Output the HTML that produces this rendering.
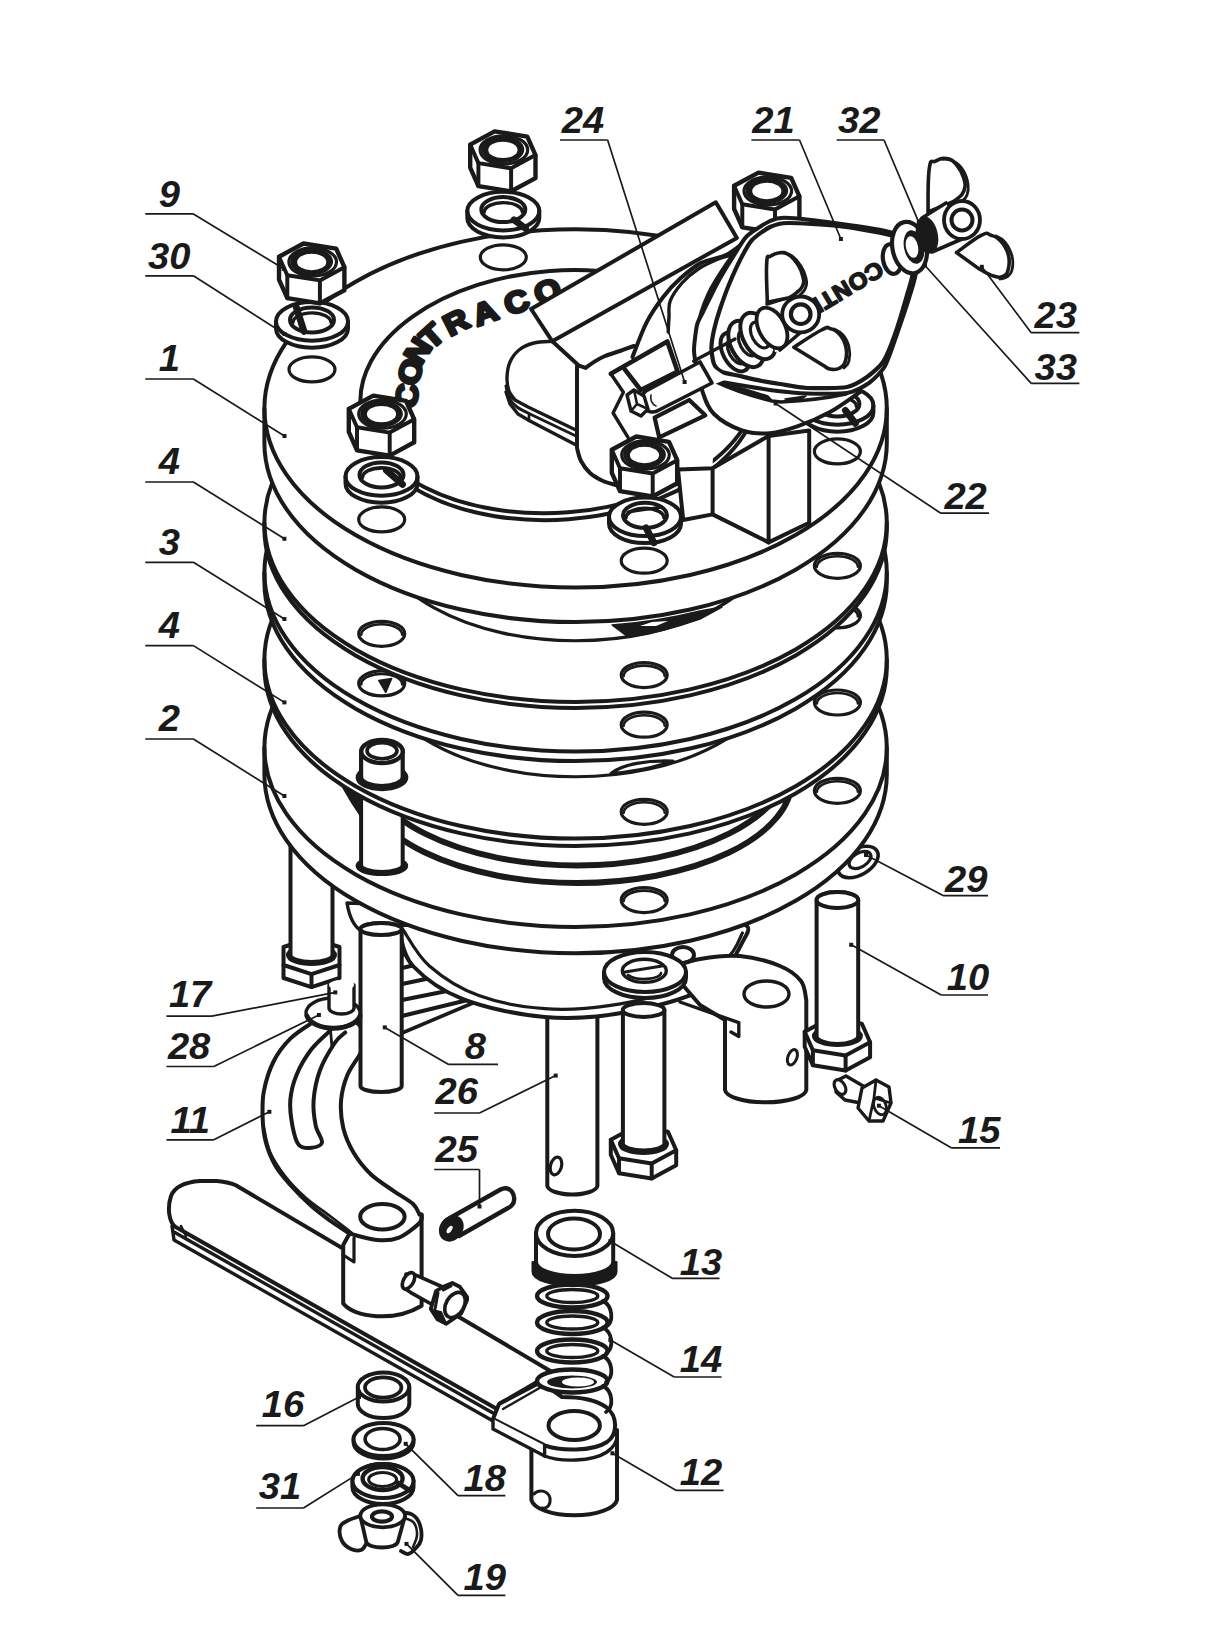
<!DOCTYPE html>
<html><head><meta charset="utf-8"><style>html,body{margin:0;padding:0;background:#fff;}svg{display:block}</style></head>
<body><svg width="1214" height="1652" viewBox="0 0 1214 1652">
<path d="M283.5,965.0 L283.5,947.0 L311.5,937.9 L339.5,947.0 L339.5,965.0 L339.5,978.0 L311.5,987.1 L283.5,978.0 Z" fill="#fff" stroke="#1a1a1a" stroke-width="4.0" stroke-linejoin="round" stroke-linecap="round" />
<path d="M339.5,965.0 L311.5,974.1 L283.5,965.0" fill="none" stroke="#1a1a1a" stroke-width="4.0" stroke-linejoin="round" stroke-linecap="round" />
<path d="M311.5,974.1 L311.5,987.1" fill="none" stroke="#1a1a1a" stroke-width="4.0" stroke-linejoin="round" stroke-linecap="round" />
<ellipse cx="311.5" cy="955.0" rx="23.0" ry="8.5" fill="none" stroke="#1a1a1a" stroke-width="5"/>
<path d="M290.5,840.0 L290.5,955.0 A21.0,7.0 0 0 0 332.5,955.0 L332.5,840.0" fill="#fff" stroke="#1a1a1a" stroke-width="4.0" stroke-linejoin="round" stroke-linecap="round" />
<path d="M402.0,935.0 L470.0,948.0 L478.0,1000.0 L402.0,1035.0 Z" fill="#fff" stroke="#1a1a1a" stroke-width="0.01" stroke-linejoin="round" stroke-linecap="round" />
<path d="M402.0,955.0 L412.0,952.0" fill="none" stroke="#1a1a1a" stroke-width="4" stroke-linejoin="round" stroke-linecap="round" />
<path d="M402.0,968.0 L428.0,962.0" fill="none" stroke="#1a1a1a" stroke-width="4" stroke-linejoin="round" stroke-linecap="round" />
<path d="M402.0,984.0 L445.0,975.0" fill="none" stroke="#1a1a1a" stroke-width="4" stroke-linejoin="round" stroke-linecap="round" />
<path d="M402.0,1000.0 L462.0,988.0" fill="none" stroke="#1a1a1a" stroke-width="4" stroke-linejoin="round" stroke-linecap="round" />
<path d="M402.0,1016.0 L476.0,998.0" fill="none" stroke="#1a1a1a" stroke-width="4" stroke-linejoin="round" stroke-linecap="round" />
<path d="M402.0,1033.0 L480.0,1000.0" fill="none" stroke="#1a1a1a" stroke-width="3.6" stroke-linejoin="round" stroke-linecap="round" />
<path d="M547.3,1000.0 L547.3,1186.0 A25.1,9.0 0 0 0 597.4,1186.0 L597.4,1000.0" fill="#fff" stroke="#1a1a1a" stroke-width="4.0" stroke-linejoin="round" stroke-linecap="round" />
<ellipse cx="556.0" cy="1166.0" rx="5.5" ry="9.0" fill="#fff" stroke="#1a1a1a" stroke-width="3.2" transform="rotate(15 556.0 1166.0)"/>
<path d="M399.8,925.0 C399.8,926.3 397.6,926.2 399.8,933.0 C402.0,939.8 402.6,955.0 413.0,966.0 C423.4,977.0 440.4,990.3 462.4,998.8 C484.3,1007.3 517.3,1014.8 544.7,1017.0 C572.1,1019.2 599.5,1017.2 627.0,1012.0 C654.5,1006.8 689.7,998.3 709.5,985.7 C729.3,973.1 739.6,946.3 745.7,936.2 C751.8,926.1 746.0,926.9 746.0,925.0 Z" fill="#fff" stroke="#1a1a1a" stroke-width="4.0" stroke-linejoin="round" stroke-linecap="round" />
<path d="M403.0,929.7 C407.4,935.8 416.8,955.0 429.4,966.0 C442.0,977.0 459.6,988.5 478.8,995.6 C498.0,1002.7 522.7,1007.1 544.7,1008.7 C566.7,1010.3 588.6,1008.7 610.6,1005.4 C632.6,1002.1 657.3,996.7 676.5,989.0 C695.7,981.3 715.0,968.6 726.0,959.3 C737.0,950.0 739.7,937.4 742.4,933.0" fill="none" stroke="#1a1a1a" stroke-width="3.2" stroke-linejoin="round" stroke-linecap="round" />
<path d="M668.0,968.0 C673.3,966.5 688.0,961.0 700.0,959.0 C712.0,957.0 726.7,954.8 740.0,956.0 C753.3,957.2 769.8,961.8 780.0,966.0 C790.2,970.2 796.6,975.3 801.0,981.0 C805.4,986.7 805.4,996.8 806.3,1000.0 L806.3,1090 A40.7,13 0 0 1 725,1090 L725,1020 L700,1005 Z" fill="#fff" stroke="#1a1a1a" stroke-width="4.0" stroke-linejoin="round" stroke-linecap="round" />
<path d="M680.0,1002.0 L738.8,1022.6 L738.8,1036.5 L731.0,1032.0" fill="none" stroke="#1a1a1a" stroke-width="3.4" stroke-linejoin="round" stroke-linecap="round" />
<ellipse cx="766.5" cy="994.0" rx="22.5" ry="13.0" fill="#fff" stroke="#1a1a1a" stroke-width="3.4"/>
<ellipse cx="792.4" cy="1057.3" rx="4.5" ry="8.0" fill="#fff" stroke="#1a1a1a" stroke-width="3" transform="rotate(20 792.4 1057.3)"/>
<ellipse cx="683.0" cy="955.0" rx="11.0" ry="8.0" fill="none" stroke="#1a1a1a" stroke-width="4"/>
<path d="M604,972 A41,20 0 0 1 686,972 L686,978 A41,20 0 0 1 604,978 Z" fill="#fff" stroke="#1a1a1a" stroke-width="4.0" stroke-linejoin="round" stroke-linecap="round" />
<path d="M604,972 A41,20 0 0 0 686,972" fill="none" stroke="#1a1a1a" stroke-width="4.0" stroke-linejoin="round" stroke-linecap="round" />
<ellipse cx="644.3" cy="970.8" rx="22.0" ry="11.5" fill="#fff" stroke="#1a1a1a" stroke-width="3.4"/>
<path d="M625.0,972.0 L662.0,966.0" fill="none" stroke="#1a1a1a" stroke-width="3" stroke-linejoin="round" stroke-linecap="round" />
<path d="M628,975 A17,6 0 0 0 661,973" fill="none" stroke="#1a1a1a" stroke-width="2.6" stroke-linejoin="round" stroke-linecap="round" />
<path d="M610.8,1139.8 L635.3,1126.5 L668.0,1131.8 L676.2,1150.2 L676.2,1165.2 L651.7,1178.5 L619.0,1173.2 L610.8,1154.8 Z" fill="#fff" stroke="#1a1a1a" stroke-width="4.0" stroke-linejoin="round" stroke-linecap="round" />
<path d="M676.2,1150.2 L651.7,1163.5 L619.0,1158.2 L610.8,1139.8" fill="none" stroke="#1a1a1a" stroke-width="4.0" stroke-linejoin="round" stroke-linecap="round" />
<path d="M651.7,1163.5 L651.7,1178.5" fill="none" stroke="#1a1a1a" stroke-width="4.0" stroke-linejoin="round" stroke-linecap="round" />
<path d="M619.0,1158.2 L619.0,1173.2" fill="none" stroke="#1a1a1a" stroke-width="4.0" stroke-linejoin="round" stroke-linecap="round" />
<ellipse cx="643.5" cy="1144.0" rx="23.0" ry="8.5" fill="none" stroke="#1a1a1a" stroke-width="5"/>
<path d="M622.9,1010.0 L622.9,1144.0 A20.8,7.0 0 0 0 664.4,1144.0 L664.4,1010.0 A20.8,7.0 0 0 0 622.9,1010.0 Z" fill="#fff" stroke="#1a1a1a" stroke-width="4.0" stroke-linejoin="round" stroke-linecap="round" />
<ellipse cx="643.6" cy="1010.0" rx="20.8" ry="7.0" fill="#fff" stroke="#1a1a1a" stroke-width="4.0"/>
<path d="M804.7,1031.8 L829.2,1018.5 L861.9,1023.8 L870.1,1042.2 L870.1,1057.2 L845.6,1070.5 L812.9,1065.2 L804.7,1046.8 Z" fill="#fff" stroke="#1a1a1a" stroke-width="4.0" stroke-linejoin="round" stroke-linecap="round" />
<path d="M870.1,1042.2 L845.6,1055.5 L812.9,1050.2 L804.7,1031.8" fill="none" stroke="#1a1a1a" stroke-width="4.0" stroke-linejoin="round" stroke-linecap="round" />
<path d="M845.6,1055.5 L845.6,1070.5" fill="none" stroke="#1a1a1a" stroke-width="4.0" stroke-linejoin="round" stroke-linecap="round" />
<path d="M812.9,1050.2 L812.9,1065.2" fill="none" stroke="#1a1a1a" stroke-width="4.0" stroke-linejoin="round" stroke-linecap="round" />
<ellipse cx="837.4" cy="1036.0" rx="23.0" ry="8.5" fill="none" stroke="#1a1a1a" stroke-width="5"/>
<path d="M816.6,900.0 L816.6,1036.0 A20.8,8.0 0 0 0 858.2,1036.0 L858.2,900.0 A20.8,8.0 0 0 0 816.6,900.0 Z" fill="#fff" stroke="#1a1a1a" stroke-width="4.0" stroke-linejoin="round" stroke-linecap="round" />
<ellipse cx="837.4" cy="900.0" rx="20.8" ry="8.0" fill="#fff" stroke="#1a1a1a" stroke-width="4.0"/>
<path d="M838.0,1080.0 L846.0,1076.0 L870.0,1090.0 L866.0,1104.0 L845.0,1100.0 L836.0,1092.0 Z" fill="#fff" stroke="#1a1a1a" stroke-width="3.4" stroke-linejoin="round" stroke-linecap="round" />
<ellipse cx="840.0" cy="1087.0" rx="5.0" ry="8.0" fill="#fff" stroke="#1a1a1a" stroke-width="3.2" transform="rotate(-30 840.0 1087.0)"/>
<path d="M862.0,1088.0 L876.0,1080.0 L889.0,1087.0 L891.0,1103.0 L883.0,1121.0 L869.0,1121.0 L858.0,1108.0 Z" fill="#fff" stroke="#1a1a1a" stroke-width="3.4" stroke-linejoin="round" stroke-linecap="round" />
<path d="M876.0,1080.0 L874.0,1098.0 L891.0,1103.0 M874.0,1098.0 L869.0,1121.0" fill="none" stroke="#1a1a1a" stroke-width="2.8" stroke-linejoin="round" stroke-linecap="round" />
<ellipse cx="880.0" cy="1106.0" rx="6.0" ry="9.0" fill="none" stroke="#1a1a1a" stroke-width="2.8" transform="rotate(-20 880.0 1106.0)"/>
<ellipse cx="858.0" cy="862.0" rx="22.0" ry="13.0" fill="#fff" stroke="#1a1a1a" stroke-width="3.6" transform="rotate(-30 858.0 862.0)"/>
<ellipse cx="860.0" cy="860.0" rx="12.0" ry="7.0" fill="#fff" stroke="#1a1a1a" stroke-width="3.2" transform="rotate(-30 860.0 860.0)"/>
<path d="M497,1409 L175.2,1226.8 C169,1222 167,1208 171,1196 C175,1186 185,1182 200,1181 L217,1181 C226,1182 231,1183 235.8,1185.2 L552,1372 Z" fill="#fff" stroke="#1a1a1a" stroke-width="4.0" stroke-linejoin="round" stroke-linecap="round" />
<path d="M174.0,1232.0 L493.0,1413.0" fill="none" stroke="#1a1a1a" stroke-width="3.4" stroke-linejoin="round" stroke-linecap="round" />
<path d="M172.0,1226.0 L174.0,1240.0 L493.0,1421.0" fill="none" stroke="#1a1a1a" stroke-width="3.4" stroke-linejoin="round" stroke-linecap="round" />
<path d="M181.0,1226.0 L186.0,1236.0" fill="none" stroke="#1a1a1a" stroke-width="2.6" stroke-linejoin="round" stroke-linecap="round" />
<path d="M531.4,1430 L531.4,1500 A43,17 0 0 0 617,1500 L617,1430 Z" fill="#fff" stroke="#1a1a1a" stroke-width="4.0" stroke-linejoin="round" stroke-linecap="round" />
<path d="M534,1494 C538,1489 548,1490 550,1498 C551,1505 547,1509 542,1508" fill="none" stroke="#1a1a1a" stroke-width="3" stroke-linejoin="round" stroke-linecap="round" />
<path d="M499,1404 L493,1419 L544.6,1445.4 C560,1451 592,1452 607,1442 C618,1434 618,1416 606,1407 C596,1400 580,1397 562,1397 L541,1382 Z" fill="#fff" stroke="#1a1a1a" stroke-width="4.0" stroke-linejoin="round" stroke-linecap="round" />
<path d="M493.0,1419.0 L493.0,1429.0 L544.6,1456.0 L544.6,1445.4" fill="#fff" stroke="#1a1a1a" stroke-width="3.4" stroke-linejoin="round" stroke-linecap="round" />
<path d="M544.6,1456 C560,1462 592,1462 607,1452 C614,1447 617,1442 617,1436" fill="none" stroke="#1a1a1a" stroke-width="3.4" stroke-linejoin="round" stroke-linecap="round" />
<path d="M500.0,1403.0 L540.0,1380.0" fill="none" stroke="#1a1a1a" stroke-width="3.2" stroke-linejoin="round" stroke-linecap="round" />
<path d="M503.0,1409.0 L543.0,1386.0" fill="none" stroke="#1a1a1a" stroke-width="2.4" stroke-linejoin="round" stroke-linecap="round" />
<ellipse cx="574.2" cy="1425.6" rx="25.7" ry="14.5" fill="#fff" stroke="#1a1a1a" stroke-width="4.0"/>
<path d="M313.6,1021.8 C309.7,1024.6 297.0,1032.0 290.3,1038.7 C283.6,1045.4 277.7,1053.2 273.3,1062.0 C268.9,1070.8 265.6,1082.2 263.8,1091.7 C262.0,1101.2 262.4,1110.7 262.7,1119.2 C263.0,1127.7 263.8,1134.7 265.9,1142.5 C268.0,1150.3 271.3,1158.7 275.4,1165.8 C279.5,1172.9 284.3,1178.2 290.3,1184.9 C296.3,1191.6 304.7,1200.1 311.4,1206.1 C318.1,1212.1 324.1,1216.3 330.5,1220.9 C336.9,1225.5 346.4,1231.5 349.6,1233.6 L343.2,1245 L343.2,1303.6 C355,1318 395,1322 421.6,1305.7 L421.6,1214.6 419.5,1214.6 C418.4,1212.8 417.3,1207.9 413.1,1204.0 C408.9,1200.1 401.2,1196.2 394.1,1191.3 C387.1,1186.3 377.5,1180.7 370.8,1174.3 C364.1,1167.9 358.4,1160.9 353.8,1153.1 C349.2,1145.3 345.3,1136.5 343.2,1127.7 C341.1,1118.9 340.4,1109.0 341.1,1100.2 C341.8,1091.4 344.3,1082.5 347.5,1074.7 C350.7,1066.9 356.8,1060.2 360.2,1053.6 C363.6,1047.0 366.7,1038.1 368.0,1035.0 L350,1015 Z" fill="#fff" stroke="#1a1a1a" stroke-width="4.0" stroke-linejoin="round" stroke-linecap="round" />
<path d="M263.5,1126.0 C264.6,1130.3 266.4,1143.7 270.0,1152.0 C273.6,1160.3 279.0,1168.3 285.0,1176.0 C291.0,1183.7 298.5,1191.3 306.0,1198.0 C313.5,1204.7 322.3,1210.2 330.0,1216.0 C337.7,1221.8 348.3,1230.2 352.0,1233.0" fill="none" stroke="#1a1a1a" stroke-width="2.8" stroke-linejoin="round" stroke-linecap="round" />
<path d="M349.6,1233.6 C354.2,1234.7 369.0,1239.3 377.1,1240.0 C385.2,1240.7 391.2,1240.7 398.3,1237.9 C405.4,1235.1 415.6,1226.9 419.5,1223.0 C423.4,1219.1 421.2,1216.0 421.6,1214.6" fill="none" stroke="#1a1a1a" stroke-width="4.0" stroke-linejoin="round" stroke-linecap="round" />
<ellipse cx="382.4" cy="1216.7" rx="22.2" ry="12.7" fill="#fff" stroke="#1a1a1a" stroke-width="4.0"/>
<path d="M354.0,1238.0 L354.0,1262.0 L343.2,1255.0" fill="none" stroke="#1a1a1a" stroke-width="3.2" stroke-linejoin="round" stroke-linecap="round" />
<path d="M330.5,1030.3 C327.3,1033.5 317.0,1041.9 311.4,1049.3 C305.8,1056.7 300.1,1066.2 296.6,1074.7 C293.1,1083.2 291.0,1091.7 290.3,1100.2 C289.6,1108.7 291.0,1118.2 292.4,1125.6 C293.8,1133.0 295.5,1141.0 298.7,1144.7 C301.9,1148.4 307.5,1148.2 311.4,1147.8 C315.3,1147.4 321.3,1146.2 322.0,1142.5 C322.7,1138.8 317.1,1132.6 315.7,1125.6 C314.3,1118.5 312.9,1109.4 313.6,1100.2 C314.3,1091.0 316.4,1080.0 319.9,1070.5 C323.4,1061.0 330.5,1049.3 334.7,1043.0 C338.9,1036.7 343.5,1034.2 345.3,1032.4" fill="#fff" stroke="#1a1a1a" stroke-width="4.0" stroke-linejoin="round" stroke-linecap="round" />
<path d="M330.5,1030.3 L332.0,1047.0" fill="none" stroke="#1a1a1a" stroke-width="2.8" stroke-linejoin="round" stroke-linecap="round" />
<path d="M347,903 C349,915 353,925 360,930 L400,930 L402,905 Z" fill="#fff" stroke="#1a1a1a" stroke-width="3.4" stroke-linejoin="round" stroke-linecap="round" />
<path d="M360.5,929.0 L360.5,1086.0 A20.6,6.0 0 0 0 401.7,1086.0 L401.7,929.0 A20.6,6.0 0 0 0 360.5,929.0 Z" fill="#fff" stroke="#1a1a1a" stroke-width="4.0" stroke-linejoin="round" stroke-linecap="round" />
<ellipse cx="381.1" cy="929.0" rx="20.6" ry="6.0" fill="#fff" stroke="#1a1a1a" stroke-width="4.0"/>
<ellipse cx="333.0" cy="1013.0" rx="27.0" ry="15.0" fill="#fff" stroke="#1a1a1a" stroke-width="3.4"/>
<path d="M307,1016 A27,15 0 0 0 360,1016" fill="none" stroke="#1a1a1a" stroke-width="5" stroke-linejoin="round" stroke-linecap="round" />
<path d="M329,985 L329,1008 A12.5,6 0 0 0 354,1008 L354,985" fill="#fff" stroke="#1a1a1a" stroke-width="3.4" stroke-linejoin="round" stroke-linecap="round" />
<ellipse cx="341.5" cy="985.0" rx="12.5" ry="5.0" fill="#fff" stroke="none"/>
<path d="M406.0,1274.0 L415.2,1274.8 L445.0,1288.0 L433.0,1305.0 L410.8,1292.6 L404.0,1288.0 Z" fill="#fff" stroke="#1a1a1a" stroke-width="3.6" stroke-linejoin="round" stroke-linecap="round" />
<ellipse cx="408.5" cy="1280.8" rx="5.0" ry="9.0" fill="#fff" stroke="#1a1a1a" stroke-width="3.6" transform="rotate(30 408.5 1280.8)"/>
<path d="M430.8,1308.9 L436.0,1291.1 L443.4,1286.7 L452.3,1283.0 L459.7,1286.7 L467.1,1297.1 L467.1,1300.0 L461.2,1313.4 L446.3,1323.8 L437.4,1319.3 Z" fill="#fff" stroke="#1a1a1a" stroke-width="3.8" stroke-linejoin="round" stroke-linecap="round" />
<path d="M443.4,1290.0 L451.0,1286.0 M438.0,1293.0 L435.0,1309.0" fill="none" stroke="#1a1a1a" stroke-width="3" stroke-linejoin="round" stroke-linecap="round" />
<path d="M432.0,1310.0 L437.4,1319.3 L446.3,1323.8 L441.0,1312.0 Z" fill="#1a1a1a" stroke="#1a1a1a" stroke-width="2" stroke-linejoin="round" stroke-linecap="round" />
<ellipse cx="455.0" cy="1305.0" rx="9.0" ry="13.5" fill="#fff" stroke="#1a1a1a" stroke-width="3.6" transform="rotate(30 455.0 1305.0)"/>
<path d="M450,1218 L500.5,1189.5 C507,1186 513,1190 514,1197 C515,1203 512,1206 508,1208 L459,1236 Z" fill="#fff" stroke="#1a1a1a" stroke-width="4.4" stroke-linejoin="round" stroke-linecap="round" />
<ellipse cx="451.3" cy="1228.4" rx="9.3" ry="11.8" fill="#1a1a1a" stroke="#1a1a1a" stroke-width="4.4" transform="rotate(35 451.3 1228.4)"/>
<ellipse cx="449.6" cy="1229.5" rx="2.2" ry="4.2" fill="#fff" stroke="none" transform="rotate(35 449.6 1229.5)"/>
<ellipse cx="572.3" cy="1381.0" rx="35.3" ry="11.5" fill="#fff" stroke="#1a1a1a" stroke-width="4.4"/>
<ellipse cx="572.0" cy="1382.0" rx="25.0" ry="6.5" fill="#1a1a1a" stroke="none"/>
<ellipse cx="578.0" cy="1382.0" rx="16.0" ry="4.5" fill="#fff" stroke="none"/>
<ellipse cx="572.3" cy="1351.0" rx="35.3" ry="11.5" fill="none" stroke="#1a1a1a" stroke-width="4.4"/>
<ellipse cx="572.3" cy="1351.0" rx="25.5" ry="6.5" fill="none" stroke="#1a1a1a" stroke-width="3.4"/>
<ellipse cx="572.3" cy="1322.5" rx="35.3" ry="11.5" fill="none" stroke="#1a1a1a" stroke-width="4.4"/>
<ellipse cx="572.3" cy="1322.5" rx="25.5" ry="6.5" fill="none" stroke="#1a1a1a" stroke-width="3.4"/>
<ellipse cx="572.3" cy="1296.0" rx="35.3" ry="11.5" fill="none" stroke="#1a1a1a" stroke-width="4.4"/>
<ellipse cx="572.3" cy="1296.0" rx="25.5" ry="6.5" fill="none" stroke="#1a1a1a" stroke-width="3.4"/>
<path d="M603,1301 C613,1306 614,1322 606,1327" fill="none" stroke="#1a1a1a" stroke-width="3.8" stroke-linejoin="round" stroke-linecap="round" />
<path d="M603,1327.5 C613,1332.5 614,1348.5 606,1353.5" fill="none" stroke="#1a1a1a" stroke-width="3.8" stroke-linejoin="round" stroke-linecap="round" />
<path d="M603,1356 C613,1361 614,1377 606,1382" fill="none" stroke="#1a1a1a" stroke-width="3.8" stroke-linejoin="round" stroke-linecap="round" />
<path d="M603,1386 C613,1391 614,1407 606,1412" fill="none" stroke="#1a1a1a" stroke-width="3.8" stroke-linejoin="round" stroke-linecap="round" />
<path d="M532.5,1262 L532.5,1272 A42,14 0 0 0 616.5,1272 L616.5,1262 Z" fill="#1a1a1a" stroke="#1a1a1a" stroke-width="2" stroke-linejoin="round" stroke-linecap="round" />
<path d="M536,1233 L536,1262 A38.6,14 0 0 0 613.2,1262 L613.2,1233 Z" fill="#fff" stroke="#1a1a1a" stroke-width="4.0" stroke-linejoin="round" stroke-linecap="round" />
<ellipse cx="574.6" cy="1233.3" rx="38.6" ry="22.6" fill="#fff" stroke="#1a1a1a" stroke-width="4.0"/>
<ellipse cx="574.0" cy="1234.0" rx="26.0" ry="15.4" fill="#fff" stroke="#1a1a1a" stroke-width="4.0"/>
<path d="M357.8,1387 L357.8,1404 A25.7,14 0 0 0 409.3,1404 L409.3,1387 Z" fill="#fff" stroke="#1a1a1a" stroke-width="4.0" stroke-linejoin="round" stroke-linecap="round" />
<ellipse cx="383.5" cy="1387.0" rx="25.7" ry="14.5" fill="#fff" stroke="#1a1a1a" stroke-width="4.0"/>
<ellipse cx="383.2" cy="1387.5" rx="18.2" ry="10.2" fill="#fff" stroke="#1a1a1a" stroke-width="3.8"/>
<path d="M353.6,1439.5 A30,16.5 0 0 1 413.5,1439.5 L413.5,1443 A30,16.5 0 0 1 353.6,1443 Z" fill="#fff" stroke="#1a1a1a" stroke-width="4.0" stroke-linejoin="round" stroke-linecap="round" />
<path d="M355,1443 A29,15 0 0 0 412,1443" fill="none" stroke="#1a1a1a" stroke-width="5.5" stroke-linejoin="round" stroke-linecap="round" />
<ellipse cx="383.5" cy="1439.5" rx="30.0" ry="16.5" fill="#fff" stroke="#1a1a1a" stroke-width="4.0"/>
<ellipse cx="382.6" cy="1439.0" rx="17.5" ry="10.5" fill="#fff" stroke="#1a1a1a" stroke-width="3.6"/>
<path d="M352.4,1481 A30.5,17 0 0 1 413.5,1481 L413.5,1487 A30.5,17 0 0 1 352.4,1487 Z" fill="#fff" stroke="#1a1a1a" stroke-width="4.0" stroke-linejoin="round" stroke-linecap="round" />
<ellipse cx="383.0" cy="1481.0" rx="30.5" ry="17.0" fill="#fff" stroke="#1a1a1a" stroke-width="4.0"/>
<ellipse cx="382.6" cy="1478.5" rx="20.0" ry="11.5" fill="#fff" stroke="#1a1a1a" stroke-width="4.4"/>
<ellipse cx="382.6" cy="1479.5" rx="14.0" ry="7.0" fill="#fff" stroke="#1a1a1a" stroke-width="3"/>
<path d="M398.0,1483.0 L409.0,1490.0" fill="none" stroke="#1a1a1a" stroke-width="5" stroke-linejoin="round" stroke-linecap="round" />
<path d="M366.0,1514.0 C362.2,1515.4 352.2,1518.2 347.0,1521.0 C341.8,1523.8 341.0,1524.0 340.0,1528.0 C339.0,1532.0 339.8,1536.8 342.0,1541.0 C344.2,1545.2 347.2,1547.2 351.0,1549.0 C354.8,1550.8 358.0,1551.0 361.0,1550.0 C364.0,1549.0 365.0,1545.2 366.0,1544.0" fill="#fff" stroke="#1a1a1a" stroke-width="3.8" stroke-linejoin="round" stroke-linecap="round" />
<path d="M400.0,1512.0 C402.6,1512.6 409.0,1512.4 413.0,1515.0 C417.0,1517.6 418.4,1520.0 420.0,1525.0 C421.6,1530.0 422.0,1535.2 421.0,1540.0 C420.0,1544.8 417.6,1546.2 415.0,1549.0 C412.4,1551.8 410.8,1553.6 408.0,1554.0 C405.2,1554.4 402.4,1551.6 401.0,1551.0" fill="#fff" stroke="#1a1a1a" stroke-width="3.8" stroke-linejoin="round" stroke-linecap="round" />
<path d="M404.0,1518.0 C406.0,1519.0 411.4,1519.6 414.0,1523.0 C416.6,1526.4 417.2,1530.2 417.0,1535.0 C416.8,1539.8 413.8,1544.6 413.0,1547.0" fill="none" stroke="#1a1a1a" stroke-width="2.6" stroke-linejoin="round" stroke-linecap="round" />
<path d="M360.3,1516 L366.3,1542 A15.8,6 0 0 0 397.8,1542 L405,1516 Z" fill="#fff" stroke="#1a1a1a" stroke-width="3.8" stroke-linejoin="round" stroke-linecap="round" />
<ellipse cx="382.7" cy="1515.8" rx="22.4" ry="11.5" fill="#fff" stroke="#1a1a1a" stroke-width="3.8"/>
<ellipse cx="382.0" cy="1516.5" rx="10.0" ry="5.2" fill="#fff" stroke="#1a1a1a" stroke-width="4.2"/>
<path d="M264.4,747.8 A311.2,179.2 0 0 1 886.8,747.8 L886.8,774.2 A311.2,179.2 0 0 1 264.4,774.2 Z" fill="#fff" stroke="#1a1a1a" stroke-width="4.0" stroke-linejoin="round" stroke-linecap="round" />
<path d="M264.4,747.8 A311.2,179.2 0 0 0 886.8,747.8" fill="none" stroke="#1a1a1a" stroke-width="4.0" stroke-linejoin="round" stroke-linecap="round" />
<ellipse cx="837.4" cy="790.8" rx="23.0" ry="12.5" fill="#fff" stroke="#1a1a1a" stroke-width="3.2"/>
<path d="M816.9,791.8 A20.5,10.5 0 0 1 857.9,791.8" fill="none" stroke="#1a1a1a" stroke-width="2.5600000000000005" stroke-linejoin="round" stroke-linecap="round" />
<ellipse cx="644.2" cy="900.1" rx="23.0" ry="12.5" fill="#fff" stroke="#1a1a1a" stroke-width="3.2"/>
<path d="M623.7,901.1 A20.5,10.5 0 0 1 664.7,901.1" fill="none" stroke="#1a1a1a" stroke-width="2.5600000000000005" stroke-linejoin="round" stroke-linecap="round" />
<path d="M362.0,756.9 A215,108.6 0 0 0 792.0,756.9" fill="none" stroke="#1a1a1a" stroke-width="6" stroke-linejoin="round" stroke-linecap="round" />
<path d="M362.0,779.2 A215,103.8 0 0 0 792.0,779.2" fill="none" stroke="#1a1a1a" stroke-width="6" stroke-linejoin="round" stroke-linecap="round" />
<path d="M357.7,866 A24.2,8 0 0 0 406.1,866 A24.2,8 0 0 0 357.7,866 Z" fill="#fff" stroke="#1a1a1a" stroke-width="4.2" stroke-linejoin="round" stroke-linecap="round" />
<path d="M361.1,795 L361.1,865 A20.8,7 0 0 0 402.7,865 L402.7,795 Z" fill="#fff" stroke="#1a1a1a" stroke-width="4" stroke-linejoin="round" stroke-linecap="round" />
<path d="M342.0,786.0 L362.0,797.0 L362.0,818.0 L352.0,803.0 Z" fill="#1a1a1a" stroke="#1a1a1a" stroke-width="1.5" stroke-linejoin="round" stroke-linecap="round" />
<path d="M264.4,659.5 A311.2,179.2 0 0 1 886.8,659.5 L886.8,666.8 A311.2,179.2 0 0 1 264.4,666.8 Z" fill="#fff" stroke="#1a1a1a" stroke-width="4.0" stroke-linejoin="round" stroke-linecap="round" />
<path d="M264.4,659.5 A311.2,179.2 0 0 0 886.8,659.5" fill="none" stroke="#1a1a1a" stroke-width="4.0" stroke-linejoin="round" stroke-linecap="round" />
<ellipse cx="837.4" cy="702.5" rx="23.0" ry="12.5" fill="#fff" stroke="#1a1a1a" stroke-width="3.2"/>
<path d="M816.9,703.5 A20.5,10.5 0 0 1 857.9,703.5" fill="none" stroke="#1a1a1a" stroke-width="2.5600000000000005" stroke-linejoin="round" stroke-linecap="round" />
<ellipse cx="644.2" cy="811.8" rx="23.0" ry="12.5" fill="#fff" stroke="#1a1a1a" stroke-width="3.2"/>
<path d="M623.7,812.8 A20.5,10.5 0 0 1 664.7,812.8" fill="none" stroke="#1a1a1a" stroke-width="2.5600000000000005" stroke-linejoin="round" stroke-linecap="round" />
<path d="M375.6,666.8 A200,110 0 0 0 775.6,666.8" fill="none" stroke="#1a1a1a" stroke-width="3.2" stroke-linejoin="round" stroke-linecap="round" />
<ellipse cx="382.0" cy="777.5" rx="24.2" ry="11.5" fill="#fff" stroke="#1a1a1a" stroke-width="4.4"/>
<path d="M361.1,751.5 L361.1,777 A20.8,9 0 0 0 402.7,777 L402.7,751.5 Z" fill="#fff" stroke="#1a1a1a" stroke-width="4.2" stroke-linejoin="round" stroke-linecap="round" />
<ellipse cx="382.0" cy="751.5" rx="20.8" ry="11.5" fill="#fff" stroke="#1a1a1a" stroke-width="4.4"/>
<ellipse cx="382.0" cy="750.7" rx="15.0" ry="8.0" fill="#fff" stroke="#1a1a1a" stroke-width="3.6"/>
<path d="M611,773.5 C622,764 648,760 673,761 C656,767 632,772 611,773.5 Z" fill="#fff" stroke="#1a1a1a" stroke-width="3.2" stroke-linejoin="round" stroke-linecap="round" />
<path d="M264.4,572.4 A311.2,179.2 0 0 1 886.8,572.4 L886.8,582.0 A311.2,179.2 0 0 1 264.4,582.0 Z" fill="#fff" stroke="#1a1a1a" stroke-width="4.0" stroke-linejoin="round" stroke-linecap="round" />
<path d="M264.4,572.4 A311.2,179.2 0 0 0 886.8,572.4" fill="none" stroke="#1a1a1a" stroke-width="4.0" stroke-linejoin="round" stroke-linecap="round" />
<ellipse cx="837.4" cy="615.4" rx="23.0" ry="12.5" fill="#fff" stroke="#1a1a1a" stroke-width="3.2"/>
<path d="M816.9,616.4 A20.5,10.5 0 0 1 857.9,616.4" fill="none" stroke="#1a1a1a" stroke-width="2.5600000000000005" stroke-linejoin="round" stroke-linecap="round" />
<ellipse cx="644.2" cy="724.7" rx="23.0" ry="12.5" fill="#fff" stroke="#1a1a1a" stroke-width="3.2"/>
<path d="M623.7,725.7 A20.5,10.5 0 0 1 664.7,725.7" fill="none" stroke="#1a1a1a" stroke-width="2.5600000000000005" stroke-linejoin="round" stroke-linecap="round" />
<ellipse cx="381.7" cy="683.4" rx="23.0" ry="12.5" fill="#fff" stroke="#1a1a1a" stroke-width="3.2"/>
<path d="M361.2,684.4 A20.5,10.5 0 0 1 402.2,684.4" fill="none" stroke="#1a1a1a" stroke-width="2.5600000000000005" stroke-linejoin="round" stroke-linecap="round" />
<path d="M378.7,680.4 L391.7,678.4 L385.7,692.4 Z" fill="#1a1a1a" stroke="#1a1a1a" stroke-width="1.5" stroke-linejoin="round" stroke-linecap="round" />
<path d="M264.4,522.8 A311.2,179.2 0 0 1 886.8,522.8 L886.8,528.8 A311.2,179.2 0 0 1 264.4,528.8 Z" fill="#fff" stroke="#1a1a1a" stroke-width="4.0" stroke-linejoin="round" stroke-linecap="round" />
<path d="M264.4,522.8 A311.2,179.2 0 0 0 886.8,522.8" fill="none" stroke="#1a1a1a" stroke-width="4.0" stroke-linejoin="round" stroke-linecap="round" />
<ellipse cx="837.4" cy="565.8" rx="23.0" ry="12.5" fill="#fff" stroke="#1a1a1a" stroke-width="3.2"/>
<path d="M816.9,566.8 A20.5,10.5 0 0 1 857.9,566.8" fill="none" stroke="#1a1a1a" stroke-width="2.5600000000000005" stroke-linejoin="round" stroke-linecap="round" />
<ellipse cx="644.2" cy="675.1" rx="23.0" ry="12.5" fill="#fff" stroke="#1a1a1a" stroke-width="3.2"/>
<path d="M623.7,676.1 A20.5,10.5 0 0 1 664.7,676.1" fill="none" stroke="#1a1a1a" stroke-width="2.5600000000000005" stroke-linejoin="round" stroke-linecap="round" />
<ellipse cx="381.7" cy="633.8" rx="23.0" ry="12.5" fill="#fff" stroke="#1a1a1a" stroke-width="3.2"/>
<path d="M361.2,634.8 A20.5,10.5 0 0 1 402.2,634.8" fill="none" stroke="#1a1a1a" stroke-width="2.5600000000000005" stroke-linejoin="round" stroke-linecap="round" />
<path d="M375.6,528.8 A200,112 0 0 0 775.6,528.8" fill="none" stroke="#1a1a1a" stroke-width="3.2" stroke-linejoin="round" stroke-linecap="round" />
<path d="M612,625 L628,637 C652,634 680,626 700,619 L722,607 L700,611 C668,619 640,623 612,625 Z" fill="#1a1a1a" stroke="#1a1a1a" stroke-width="1.5" stroke-linejoin="round" stroke-linecap="round" />
<path d="M640,626 L652,622 L668,621 L656,626 Z" fill="#fff" stroke="#1a1a1a" stroke-width="0.01" stroke-linejoin="round" stroke-linecap="round" />
<path d="M264.4,408.4 A311.2,179.2 0 0 1 886.8,408.4 L886.8,443.0 A311.2,179.2 0 0 1 264.4,443.0 Z" fill="#fff" stroke="#1a1a1a" stroke-width="4.0" stroke-linejoin="round" stroke-linecap="round" />
<path d="M264.4,408.4 A311.2,179.2 0 0 0 886.8,408.4" fill="none" stroke="#1a1a1a" stroke-width="4.0" stroke-linejoin="round" stroke-linecap="round" />
<ellipse cx="837.4" cy="451.4" rx="23.0" ry="12.5" fill="#fff" stroke="#1a1a1a" stroke-width="3.2"/>
<ellipse cx="644.2" cy="560.7" rx="23.0" ry="12.5" fill="#fff" stroke="#1a1a1a" stroke-width="3.2"/>
<ellipse cx="381.7" cy="519.4" rx="23.0" ry="12.5" fill="#fff" stroke="#1a1a1a" stroke-width="3.2"/>
<ellipse cx="312.0" cy="369.4" rx="23.0" ry="12.5" fill="#fff" stroke="#1a1a1a" stroke-width="3.2"/>
<ellipse cx="503.3" cy="257.3" rx="23.0" ry="12.5" fill="#fff" stroke="#1a1a1a" stroke-width="3.2"/>
<ellipse cx="768.8" cy="296.0" rx="23.0" ry="12.5" fill="#fff" stroke="#1a1a1a" stroke-width="3.2"/>
<ellipse cx="559.0" cy="391.6" rx="199.0" ry="121.0" fill="none" stroke="#1a1a1a" stroke-width="4.0" transform="rotate(-4.3 559.0 391.6)"/>
<path d="M360.0,398.6 A199,121 0 0 0 758.0,398.6" fill="none" stroke="#1a1a1a" stroke-width="4.0" transform="rotate(-4.3 559 391.6)"/>
<text transform="translate(407 396) rotate(-86) scale(1.12 1)" text-anchor="middle" dominant-baseline="central" font-family="Liberation Sans" font-weight="bold" font-size="30" fill="#1a1a1a" stroke="#1a1a1a" stroke-width="3.0" stroke-linejoin="round">C</text>
<text transform="translate(410.5 371.5) rotate(-74) scale(1.12 1)" text-anchor="middle" dominant-baseline="central" font-family="Liberation Sans" font-weight="bold" font-size="30" fill="#1a1a1a" stroke="#1a1a1a" stroke-width="3.0" stroke-linejoin="round">O</text>
<text transform="translate(418 351) rotate(-58) scale(1.12 1)" text-anchor="middle" dominant-baseline="central" font-family="Liberation Sans" font-weight="bold" font-size="30" fill="#1a1a1a" stroke="#1a1a1a" stroke-width="3.0" stroke-linejoin="round">N</text>
<text transform="translate(432 336) rotate(-42) scale(1.12 1)" text-anchor="middle" dominant-baseline="central" font-family="Liberation Sans" font-weight="bold" font-size="30" fill="#1a1a1a" stroke="#1a1a1a" stroke-width="3.0" stroke-linejoin="round">T</text>
<text transform="translate(456 322) rotate(-27) scale(1.12 1)" text-anchor="middle" dominant-baseline="central" font-family="Liberation Sans" font-weight="bold" font-size="30" fill="#1a1a1a" stroke="#1a1a1a" stroke-width="3.0" stroke-linejoin="round">R</text>
<text transform="translate(485 312.5) rotate(-20) scale(1.12 1)" text-anchor="middle" dominant-baseline="central" font-family="Liberation Sans" font-weight="bold" font-size="30" fill="#1a1a1a" stroke="#1a1a1a" stroke-width="3.0" stroke-linejoin="round">A</text>
<text transform="translate(516.5 302) rotate(-19) scale(1.12 1)" text-anchor="middle" dominant-baseline="central" font-family="Liberation Sans" font-weight="bold" font-size="30" fill="#1a1a1a" stroke="#1a1a1a" stroke-width="3.0" stroke-linejoin="round">C</text>
<text transform="translate(547.6 291.2) rotate(-19) scale(1.12 1)" text-anchor="middle" dominant-baseline="central" font-family="Liberation Sans" font-weight="bold" font-size="30" fill="#1a1a1a" stroke="#1a1a1a" stroke-width="3.0" stroke-linejoin="round">O</text>
<path d="M467.3,211.1 A36,19.3 0 0 1 539.3,211.1 L539.3,218.1 A36,19.3 0 0 1 467.3,218.1 Z" fill="#fff" stroke="#1a1a1a" stroke-width="4.0" stroke-linejoin="round" stroke-linecap="round" />
<path d="M467.3,211.1 A36,19.3 0 0 0 539.3,211.1" fill="none" stroke="#1a1a1a" stroke-width="4.0" stroke-linejoin="round" stroke-linecap="round" />
<ellipse cx="503.3" cy="209.6" rx="22.0" ry="12.5" fill="#fff" stroke="#1a1a1a" stroke-width="4.0"/>
<path d="M484.3,212.1 A19,9.5 0 0 1 522.3,212.1" fill="none" stroke="#1a1a1a" stroke-width="3.4" stroke-linejoin="round" stroke-linecap="round" />
<path d="M513.9,219.8 L525.6,228.5" fill="none" stroke="#1a1a1a" stroke-width="6.8" stroke-linejoin="round" stroke-linecap="round" />
<path d="M470.2,144.6 L494.6,131.4 L527.3,136.6 L535.5,155.1 L535.5,178.1 L511.1,191.3 L478.4,186.1 L470.2,167.6 Z" fill="#fff" stroke="#1a1a1a" stroke-width="4.4" stroke-linejoin="round" stroke-linecap="round" />
<path d="M470.2,144.6 L478.4,163.1 L511.1,168.3 L535.5,155.1" fill="none" stroke="#1a1a1a" stroke-width="3.9600000000000004" stroke-linejoin="round" stroke-linecap="round" />
<path d="M511.1,168.3 L511.1,191.3" fill="none" stroke="#1a1a1a" stroke-width="3.9600000000000004" stroke-linejoin="round" stroke-linecap="round" />
<path d="M478.4,163.1 L478.4,186.1" fill="none" stroke="#1a1a1a" stroke-width="3.9600000000000004" stroke-linejoin="round" stroke-linecap="round" />
<ellipse cx="503.9" cy="149.9" rx="23.8" ry="14.1" fill="#fff" stroke="#1a1a1a" stroke-width="3.2"/>
<ellipse cx="502.9" cy="149.6" rx="21.4" ry="13.5" fill="#1a1a1a" stroke="none"/>
<ellipse cx="502.9" cy="149.9" rx="14.6" ry="8.2" fill="#fff" stroke="none"/>
<path d="M734.1,185.8 L758.5,172.6 L791.2,177.8 L799.4,196.3 L799.4,219.3 L775.0,232.5 L742.3,227.3 L734.1,208.8 Z" fill="#fff" stroke="#1a1a1a" stroke-width="4.4" stroke-linejoin="round" stroke-linecap="round" />
<path d="M734.1,185.8 L742.3,204.3 L775.0,209.5 L799.4,196.3" fill="none" stroke="#1a1a1a" stroke-width="3.9600000000000004" stroke-linejoin="round" stroke-linecap="round" />
<path d="M775.0,209.5 L775.0,232.5" fill="none" stroke="#1a1a1a" stroke-width="3.9600000000000004" stroke-linejoin="round" stroke-linecap="round" />
<path d="M742.3,204.3 L742.3,227.3" fill="none" stroke="#1a1a1a" stroke-width="3.9600000000000004" stroke-linejoin="round" stroke-linecap="round" />
<ellipse cx="767.8" cy="191.0" rx="23.8" ry="14.1" fill="#fff" stroke="#1a1a1a" stroke-width="3.2"/>
<ellipse cx="766.8" cy="190.7" rx="21.4" ry="13.5" fill="#1a1a1a" stroke="none"/>
<ellipse cx="766.8" cy="191.0" rx="14.6" ry="8.2" fill="#fff" stroke="none"/>
<path d="M276.0,321.4 A36,19.3 0 0 1 348.0,321.4 L348.0,328.4 A36,19.3 0 0 1 276.0,328.4 Z" fill="#fff" stroke="#1a1a1a" stroke-width="4.0" stroke-linejoin="round" stroke-linecap="round" />
<path d="M276.0,321.4 A36,19.3 0 0 0 348.0,321.4" fill="none" stroke="#1a1a1a" stroke-width="4.0" stroke-linejoin="round" stroke-linecap="round" />
<ellipse cx="312.0" cy="319.9" rx="22.0" ry="12.5" fill="#fff" stroke="#1a1a1a" stroke-width="4.0"/>
<path d="M293.0,322.4 A19,9.5 0 0 1 331.0,322.4" fill="none" stroke="#1a1a1a" stroke-width="3.4" stroke-linejoin="round" stroke-linecap="round" />
<path d="M296.0,306.4 L304.0,331.4" fill="none" stroke="#1a1a1a" stroke-width="6.8" stroke-linejoin="round" stroke-linecap="round" />
<path d="M279.0,256.7 L303.5,243.5 L336.2,248.7 L344.4,267.2 L344.4,290.2 L319.9,303.4 L287.3,298.2 L279.0,279.7 Z" fill="#fff" stroke="#1a1a1a" stroke-width="4.4" stroke-linejoin="round" stroke-linecap="round" />
<path d="M279.0,256.7 L287.3,275.2 L319.9,280.4 L344.4,267.2" fill="none" stroke="#1a1a1a" stroke-width="3.9600000000000004" stroke-linejoin="round" stroke-linecap="round" />
<path d="M319.9,280.4 L319.9,303.4" fill="none" stroke="#1a1a1a" stroke-width="3.9600000000000004" stroke-linejoin="round" stroke-linecap="round" />
<path d="M287.3,275.2 L287.3,298.2" fill="none" stroke="#1a1a1a" stroke-width="3.9600000000000004" stroke-linejoin="round" stroke-linecap="round" />
<ellipse cx="312.7" cy="262.0" rx="23.8" ry="14.1" fill="#fff" stroke="#1a1a1a" stroke-width="3.2"/>
<ellipse cx="311.7" cy="261.7" rx="21.4" ry="13.5" fill="#1a1a1a" stroke="none"/>
<ellipse cx="311.7" cy="262.0" rx="14.6" ry="8.2" fill="#fff" stroke="none"/>
<path d="M801.4,405.4 A36,19.3 0 0 1 873.4,405.4 L873.4,412.4 A36,19.3 0 0 1 801.4,412.4 Z" fill="#fff" stroke="#1a1a1a" stroke-width="4.0" stroke-linejoin="round" stroke-linecap="round" />
<path d="M801.4,405.4 A36,19.3 0 0 0 873.4,405.4" fill="none" stroke="#1a1a1a" stroke-width="4.0" stroke-linejoin="round" stroke-linecap="round" />
<ellipse cx="837.4" cy="403.9" rx="22.0" ry="12.5" fill="#fff" stroke="#1a1a1a" stroke-width="4.0"/>
<path d="M818.4,406.4 A19,9.5 0 0 1 856.4,406.4" fill="none" stroke="#1a1a1a" stroke-width="3.4" stroke-linejoin="round" stroke-linecap="round" />
<path d="M845.4,410.4 L855.4,423.4" fill="none" stroke="#1a1a1a" stroke-width="6.8" stroke-linejoin="round" stroke-linecap="round" />
<path d="M552.3,341.3 C549.2,341.6 539.5,341.6 534.0,343.0 C528.5,344.4 523.0,346.8 519.0,350.0 C515.0,353.2 512.0,357.5 510.0,362.0 C508.0,366.5 507.2,372.2 507.0,377.0 C506.8,381.8 507.7,387.2 509.0,391.0 C510.3,394.8 514.0,398.5 515.0,400.0 M515.0,400.0 L528.0,407.0 L578.0,431.0 L578,446 L530,421 L518,414 L510,404 L506,392 Z" fill="#fff" stroke="#1a1a1a" stroke-width="3.4" stroke-linejoin="round" stroke-linecap="round" />
<path d="M506.0,386.0 C506.5,388.0 507.2,394.5 509.0,398.0 C510.8,401.5 513.5,404.3 517.0,407.0 C520.5,409.7 527.8,412.8 530.0,414.0 L578,437" fill="none" stroke="#1a1a1a" stroke-width="3.0" stroke-linejoin="round" stroke-linecap="round" />
<path d="M529.0,414.0 L529.0,421.0" fill="none" stroke="#1a1a1a" stroke-width="2.6" stroke-linejoin="round" stroke-linecap="round" />
<path d="M552.3,341.3 L736.9,237.9 L748.0,236.0 L728.0,262.0 L708.0,295.0 L697.0,330.0 L696.0,360.0 L702.0,390.0 L714.0,414.0 L712.6,468.2 L680.0,470.0 L615.0,484.0 L597.0,477.0 L583.0,463.0 L577.0,448.0 L577.0,368.0 L579.0,365.7 Z" fill="#fff" stroke="#1a1a1a" stroke-width="0.01" stroke-linejoin="round" stroke-linecap="round" />
<path d="M552.3,341.3 L579.0,365.7 L585.6,367.9 M585.6,367.9 C587.1,366.8 591.3,363.6 594.5,361.6 C597.7,359.6 600.8,357.8 605.0,356.0 C609.2,354.2 615.2,352.7 620.0,351.0 C624.8,349.3 631.7,346.8 634.0,346.0" fill="none" stroke="#1a1a1a" stroke-width="4.0" stroke-linejoin="round" stroke-linecap="round" />
<path d="M577.0,366.0 L577.0,448.0 M577.0,448.0 C577.7,450.2 578.8,456.8 581.0,461.0 C583.2,465.2 586.3,469.7 590.0,473.0 C593.7,476.3 598.7,479.0 603.0,481.0 C607.3,483.0 613.8,484.3 616.0,485.0" fill="none" stroke="#1a1a1a" stroke-width="4.0" stroke-linejoin="round" stroke-linecap="round" />
<path d="M616.0,485.0 L640.0,480.0" fill="none" stroke="#1a1a1a" stroke-width="4.0" stroke-linejoin="round" stroke-linecap="round" />
<path d="M632.5,357.0 C634.8,351.3 641.4,332.6 646.5,322.6 C651.6,312.6 657.3,304.6 663.0,297.2 C668.7,289.8 674.4,283.8 680.8,278.1 C687.2,272.4 693.8,266.7 701.2,262.9 C708.6,259.1 718.5,258.4 725.3,255.3 C732.1,252.2 739.2,245.9 742.0,244.0" fill="none" stroke="#1a1a1a" stroke-width="4.0" stroke-linejoin="round" stroke-linecap="round" />
<path d="M668.2,332.0 C668.3,329.4 668.7,321.8 669.0,316.6 C669.3,311.4 668.0,306.4 670.2,300.8 C672.4,295.2 677.4,288.3 682.0,283.0 C686.6,277.7 691.9,273.1 697.9,269.2 C703.9,265.2 712.0,261.7 717.7,259.3 C723.4,256.9 729.6,255.7 732.0,255.0" fill="none" stroke="#1a1a1a" stroke-width="3.4" stroke-linejoin="round" stroke-linecap="round" />
<path d="M678.0,469.6 L712.6,468.2 L768.6,436.0 L809.2,430.4 L809.2,522.8 L768.6,542.4 L712.6,514.4 L683.2,520.0 Z" fill="#fff" stroke="#1a1a1a" stroke-width="4.0" stroke-linejoin="round" stroke-linecap="round" />
<path d="M712.6,468.2 L712.6,514.4 M768.6,436.0 L768.6,542.4" fill="none" stroke="#1a1a1a" stroke-width="4.0" stroke-linejoin="round" stroke-linecap="round" />
<path d="M748.0,236.0 C744.7,240.3 734.7,252.2 728.0,262.0 C721.3,271.8 713.2,283.7 708.0,295.0 C702.8,306.3 699.0,319.2 697.0,330.0 C695.0,340.8 695.2,350.0 696.0,360.0 C696.8,370.0 699.0,381.0 702.0,390.0 C705.0,399.0 707.3,407.3 714.0,414.0 C720.7,420.7 732.7,427.2 742.0,430.4 C751.3,433.6 760.7,433.9 770.0,433.2 C779.3,432.5 788.0,429.7 798.0,426.2 C808.0,422.7 819.7,417.7 830.0,412.0 C840.3,406.3 855.0,395.3 860.0,392.0" fill="#fff" stroke="#1a1a1a" stroke-width="4.0" stroke-linejoin="round" stroke-linecap="round" />
<path d="M738.0,250.0 C734.3,255.3 721.8,271.2 716.0,282.0 C710.2,292.8 705.8,304.5 703.0,315.0 C700.2,325.5 699.7,340.0 699.0,345.0" fill="none" stroke="#1a1a1a" stroke-width="2.6" stroke-linejoin="round" stroke-linecap="round" />
<path d="M531.1,309.0 L715.8,202.3 L736.9,237.9 L552.3,341.3 Z" fill="#fff" stroke="#1a1a1a" stroke-width="4.0" stroke-linejoin="round" stroke-linecap="round" />
<path d="M694.0,350.0 C694.0,345.1 696.0,329.4 697.0,325.0 C698.0,320.6 700.5,317.0 703.0,312.0 C705.5,307.0 714.5,288.4 718.0,282.0 C721.5,275.6 729.6,262.4 733.0,257.0 C736.4,251.6 742.7,240.2 747.0,236.0 C751.3,231.8 765.6,223.1 770.0,221.0 C774.4,218.9 777.1,217.5 785.0,217.8 C792.9,218.1 825.6,221.7 838.0,223.4 C850.4,225.1 883.2,229.8 891.0,232.3 C898.8,234.8 902.1,240.6 905.0,245.0 C907.9,249.4 915.4,264.2 916.0,270.0 C916.6,275.8 912.3,287.2 910.0,295.0 C907.7,302.8 898.9,328.7 896.0,337.0 C893.1,345.3 888.1,360.6 885.0,366.0 C881.9,371.4 873.4,379.9 869.0,383.0 C864.6,386.1 854.2,391.8 847.0,393.0 C839.8,394.2 814.8,393.7 807.0,393.5 C799.2,393.3 787.2,392.2 780.0,391.3 C772.8,390.4 752.1,387.2 745.0,386.0 C737.9,384.8 723.5,382.2 719.0,381.1 C714.5,380.1 708.6,378.6 706.0,377.0 C703.4,375.4 698.4,370.1 697.0,367.0 C695.6,363.9 694.0,354.9 694.0,350.0 Z" fill="#fff" stroke="#1a1a1a" stroke-width="4.0" stroke-linejoin="round" stroke-linecap="round" />
<path d="M711.4,348.0 C711.4,344.0 713.0,334.6 714.0,330.0 C715.0,325.4 718.2,314.3 720.0,309.0 C721.8,303.7 726.6,290.3 729.0,284.5 C731.4,278.7 737.9,264.2 740.6,259.0 C743.3,253.8 748.6,243.7 752.0,240.0 C755.4,236.3 765.8,229.0 770.0,227.0 C774.2,225.0 780.1,223.1 788.0,223.0 C795.9,222.9 826.1,224.6 838.0,226.0 C849.9,227.4 882.3,232.6 890.0,235.0 C897.7,237.4 901.3,242.9 904.0,247.0 C906.7,251.1 912.6,264.4 913.0,270.0 C913.4,275.6 909.2,287.2 907.0,295.0 C904.8,302.8 896.8,329.2 894.0,337.0 C891.2,344.8 886.1,357.3 883.0,362.0 C879.9,366.7 871.2,374.1 867.0,377.0 C862.8,379.9 854.0,385.7 847.0,387.0 C840.0,388.3 814.8,388.4 807.0,388.0 C799.2,387.6 785.2,384.8 780.0,384.0 C774.8,383.2 766.7,381.9 762.0,381.0 C757.3,380.1 744.7,377.1 740.0,376.0 C735.3,374.9 725.0,373.4 722.0,372.0 C719.0,370.6 715.2,366.8 714.0,364.0 C712.8,361.2 711.4,352.0 711.4,348.0 Z" fill="none" stroke="#1a1a1a" stroke-width="4.2" stroke-linejoin="round" stroke-linecap="round" />
<path d="M716,382 C735,391 755,397 772,401 L781,402 C800,401 828,398 846,394" fill="none" stroke="#1a1a1a" stroke-width="3.4" stroke-linejoin="round" stroke-linecap="round" />
<path d="M718.0,382.0 L738.0,391.0 L772.0,400.5 L768.0,396.0 L742.0,388.0 Z" fill="#1a1a1a" stroke="#1a1a1a" stroke-width="1.5" stroke-linejoin="round" stroke-linecap="round" />
<path d="M785.0,399.0 L806.0,396.0 L800.0,400.5 Z" fill="#1a1a1a" stroke="#1a1a1a" stroke-width="1.5" stroke-linejoin="round" stroke-linecap="round" />
<text transform="translate(848 287) rotate(149) scale(1.05 1)" text-anchor="middle" dominant-baseline="central" font-family="Liberation Sans" font-weight="bold" font-size="23" fill="#1a1a1a" stroke="#1a1a1a" stroke-width="1.6" stroke-linejoin="round" letter-spacing="0.5">CONTI</text>
<ellipse cx="735.0" cy="352.0" rx="12.0" ry="21.0" fill="#fff" stroke="#1a1a1a" stroke-width="4" transform="rotate(-28 735.0 352.0)"/>
<ellipse cx="737.0" cy="351.0" rx="8.0" ry="14.0" fill="none" stroke="#1a1a1a" stroke-width="3.2" transform="rotate(-28 737.0 351.0)"/>
<ellipse cx="746.0" cy="344.0" rx="15.0" ry="25.0" fill="#fff" stroke="#1a1a1a" stroke-width="4" transform="rotate(-28 746.0 344.0)"/>
<ellipse cx="748.0" cy="343.0" rx="8.0" ry="14.0" fill="none" stroke="#1a1a1a" stroke-width="3.2" transform="rotate(-28 748.0 343.0)"/>
<ellipse cx="758.0" cy="336.0" rx="15.0" ry="25.0" fill="#fff" stroke="#1a1a1a" stroke-width="4" transform="rotate(-28 758.0 336.0)"/>
<ellipse cx="760.0" cy="335.0" rx="8.0" ry="14.0" fill="none" stroke="#1a1a1a" stroke-width="3.2" transform="rotate(-28 760.0 335.0)"/>
<path d="M766.0,303.0 L785.0,298.0 L820.0,330.0 L795.0,350.0 L775.0,352.0 Z" fill="#fff" stroke="#1a1a1a" stroke-width="0.01" stroke-linejoin="round" stroke-linecap="round" />
<ellipse cx="772.0" cy="328.0" rx="13.0" ry="22.0" fill="#fff" stroke="#1a1a1a" stroke-width="3.8" transform="rotate(-28 772.0 328.0)"/>
<path d="M767.0,304.0 L786.0,298.0 M780.0,350.0 L800.0,333.0" fill="none" stroke="#1a1a1a" stroke-width="3.6" stroke-linejoin="round" stroke-linecap="round" />
<path d="M767.3,302.3 C767.2,293.1 765.9,273.8 766.7,263.0 C767.5,252.2 767.6,258.5 770.7,256.1 C773.8,253.7 775.7,253.0 780.0,252.7 C784.3,252.4 784.9,252.0 789.2,255.0 C793.5,258.0 795.2,260.3 798.4,265.4 C801.6,270.5 802.0,272.1 803.0,276.9 C804.0,281.7 804.1,282.3 802.5,286.1 C800.9,289.9 799.2,290.3 796.1,293.0 C793.0,295.7 790.8,296.6 789.2,297.7 Z" fill="#fff" stroke="#1a1a1a" stroke-width="3.6" stroke-linejoin="round" stroke-linecap="round" />
<path d="M783.0,253.0 C785.1,253.7 787.8,253.0 792.0,256.0 C796.2,259.0 797.7,260.9 801.0,266.0 C804.3,271.1 805.0,272.9 806.0,278.0 C807.0,283.1 806.9,284.0 805.5,288.0 C804.1,292.0 801.3,293.4 800.0,295.0" fill="none" stroke="#1a1a1a" stroke-width="2.8" stroke-linejoin="round" stroke-linecap="round" />
<path d="M793.8,347.3 C800.3,343.3 812.9,334.3 821.5,330.0 C830.1,325.7 826.4,327.7 830.7,328.8 C835.0,329.9 836.4,330.6 839.9,334.6 C843.4,338.6 844.3,340.2 845.7,346.1 C847.1,352.0 847.1,354.8 845.7,359.9 C844.3,365.0 843.4,365.8 839.9,368.0 C836.4,370.2 834.5,369.7 830.7,369.2 C826.9,368.7 825.4,366.5 823.8,365.7 Z" fill="#fff" stroke="#1a1a1a" stroke-width="3.6" stroke-linejoin="round" stroke-linecap="round" />
<path d="M834.0,329.0 C836.1,330.4 839.5,330.8 843.0,335.0 C846.5,339.2 847.6,340.9 849.0,347.0 C850.4,353.1 850.2,356.1 849.0,361.0 C847.8,365.9 845.2,366.4 844.0,368.0" fill="none" stroke="#1a1a1a" stroke-width="2.8" stroke-linejoin="round" stroke-linecap="round" />
<ellipse cx="800.7" cy="314.4" rx="18.5" ry="17.9" fill="#fff" stroke="#1a1a1a" stroke-width="3.8"/>
<ellipse cx="800.7" cy="314.2" rx="9.8" ry="9.8" fill="#fff" stroke="#1a1a1a" stroke-width="4.2"/>
<ellipse cx="892.0" cy="259.0" rx="9.0" ry="15.0" fill="#fff" stroke="#1a1a1a" stroke-width="4.2" transform="rotate(-10 892.0 259.0)"/>
<ellipse cx="909.5" cy="247.6" rx="17.0" ry="26.0" fill="#fff" stroke="#1a1a1a" stroke-width="4.2" transform="rotate(-12 909.5 247.6)"/>
<ellipse cx="914.0" cy="247.0" rx="10.0" ry="17.0" fill="#1a1a1a" stroke="none" transform="rotate(-12 914.0 247.0)"/>
<ellipse cx="912.0" cy="247.0" rx="6.0" ry="11.0" fill="#fff" stroke="none" transform="rotate(-12 912.0 247.0)"/>
<path d="M928.0,212.0 C928.3,201.8 927.5,180.4 929.3,168.5 C931.0,156.6 931.5,163.4 935.5,161.1 C939.5,158.8 941.7,157.7 946.6,158.6 C951.5,159.5 952.5,160.2 956.5,164.8 C960.5,169.4 962.2,172.3 963.9,178.4 C965.6,184.5 965.6,185.9 963.9,190.8 C962.2,195.7 960.5,196.2 956.5,199.4 C952.5,202.6 948.9,203.2 946.6,204.4 Z" fill="#fff" stroke="#1a1a1a" stroke-width="3.6" stroke-linejoin="round" stroke-linecap="round" />
<path d="M942.0,159.0 C944.6,159.5 948.1,158.4 953.0,161.0 C957.9,163.6 959.5,164.6 963.0,170.0 C966.5,175.4 967.1,178.2 968.0,184.0 C968.9,189.8 968.4,191.0 967.0,195.0 C965.6,199.0 963.2,199.6 962.0,201.0" fill="none" stroke="#1a1a1a" stroke-width="2.8" stroke-linejoin="round" stroke-linecap="round" />
<path d="M956.5,252.6 C962.3,248.6 973.1,239.3 981.2,235.3 C989.3,231.3 986.5,233.9 991.1,235.3 C995.7,236.7 997.0,236.8 1001.0,241.4 C1005.0,246.0 1006.7,248.7 1008.4,255.0 C1010.1,261.3 1009.5,263.7 1008.4,268.6 C1007.3,273.5 1007.0,274.3 1003.5,276.0 C1000.0,277.7 999.4,277.7 993.6,276.0 C987.8,274.3 982.2,270.3 978.7,268.6 Z" fill="#fff" stroke="#1a1a1a" stroke-width="3.6" stroke-linejoin="round" stroke-linecap="round" />
<path d="M996.0,236.0 C998.1,237.4 1001.3,237.3 1005.0,242.0 C1008.7,246.7 1010.4,249.5 1012.0,256.0 C1013.6,262.5 1013.2,265.1 1012.0,270.0 C1010.8,274.9 1009.8,274.9 1007.0,277.0 C1004.2,279.1 1001.6,278.5 1000.0,279.0" fill="none" stroke="#1a1a1a" stroke-width="2.8" stroke-linejoin="round" stroke-linecap="round" />
<path d="M922.0,218.0 L946.0,203.0 L962.0,239.0 L932.0,252.0 Z" fill="#fff" stroke="#1a1a1a" stroke-width="0.01" stroke-linejoin="round" stroke-linecap="round" />
<path d="M922.0,218.0 L946.0,203.0 M932.0,252.0 L962.0,239.0" fill="none" stroke="#1a1a1a" stroke-width="3.6" stroke-linejoin="round" stroke-linecap="round" />
<ellipse cx="927.0" cy="235.0" rx="9.0" ry="17.0" fill="#1a1a1a" stroke="#1a1a1a" stroke-width="3.6" transform="rotate(-12 927.0 235.0)"/>
<ellipse cx="962.0" cy="220.0" rx="18.0" ry="19.0" fill="#fff" stroke="#1a1a1a" stroke-width="3.8"/>
<ellipse cx="962.0" cy="220.0" rx="10.5" ry="10.5" fill="#fff" stroke="#1a1a1a" stroke-width="4"/>
<path d="M610.8,373.8 L623.4,392.3 L613.1,413.0 L628.0,437.3 L654.6,430.0 L659.2,437.3 L705.3,415.3 L689.2,394.6 L728.4,378.4 L705.0,362.0 L677.6,371.5 L667.3,341.5 Z" fill="#fff" stroke="#1a1a1a" stroke-width="0.01" stroke-linejoin="round" stroke-linecap="round" />
<path d="M610.8,373.8 L667.3,341.5 L677.6,371.5 L640.7,390.0 L624.6,369.2" fill="none" stroke="#1a1a1a" stroke-width="4.6" stroke-linejoin="round" stroke-linecap="round" />
<path d="M610.8,373.8 L623.4,392.3 L613.1,413.0 L628.0,437.3" fill="none" stroke="#1a1a1a" stroke-width="3.4" stroke-linejoin="round" stroke-linecap="round" />
<path d="M654.6,417.6 L689.2,400.0 L705.3,415.3 L659.2,437.3 Z" fill="#fff" stroke="#1a1a1a" stroke-width="4.2" stroke-linejoin="round" stroke-linecap="round" />
<path d="M646,391 L700,362 L712,383 L659,410 A11,11 0 0 1 646,391 Z" fill="#fff" stroke="#1a1a1a" stroke-width="3.6" stroke-linejoin="round" stroke-linecap="round" />
<path d="M651,395 A8,9 0 0 0 656,406" fill="none" stroke="#1a1a1a" stroke-width="1.6" stroke-linejoin="round" stroke-linecap="round" />
<path d="M627.0,395.0 L634.0,390.0 L644.0,396.0 L648.0,409.0 L641.0,416.0 L631.0,411.0 Z" fill="#fff" stroke="#1a1a1a" stroke-width="3.4" stroke-linejoin="round" stroke-linecap="round" />
<path d="M634.0,390.0 L637.0,404.0 L648.0,409.0 M637.0,404.0 L631.0,411.0" fill="none" stroke="#1a1a1a" stroke-width="2.6" stroke-linejoin="round" stroke-linecap="round" />
<path d="M693.8,361.1 L735.0,339.0" fill="none" stroke="#1a1a1a" stroke-width="3.4" stroke-linejoin="round" stroke-linecap="round" />
<path d="M345.5,476.4 A36,19.3 0 0 1 417.5,476.4 L417.5,483.4 A36,19.3 0 0 1 345.5,483.4 Z" fill="#fff" stroke="#1a1a1a" stroke-width="4.0" stroke-linejoin="round" stroke-linecap="round" />
<path d="M345.5,476.4 A36,19.3 0 0 0 417.5,476.4" fill="none" stroke="#1a1a1a" stroke-width="4.0" stroke-linejoin="round" stroke-linecap="round" />
<ellipse cx="381.5" cy="474.9" rx="22.0" ry="12.5" fill="#fff" stroke="#1a1a1a" stroke-width="4.0"/>
<path d="M362.5,477.4 A19,9.5 0 0 1 400.5,477.4" fill="none" stroke="#1a1a1a" stroke-width="3.6" stroke-linejoin="round" stroke-linecap="round" />
<path d="M386.5,470.4 L402.5,484.4" fill="none" stroke="#1a1a1a" stroke-width="6.8" stroke-linejoin="round" stroke-linecap="round" />
<path d="M348.8,408.9 L373.3,395.6 L406.0,400.9 L414.2,419.3 L414.2,442.3 L389.7,455.6 L357.0,450.3 L348.8,431.9 Z" fill="#fff" stroke="#1a1a1a" stroke-width="4.4" stroke-linejoin="round" stroke-linecap="round" />
<path d="M348.8,408.9 L357.0,427.3 L389.7,432.6 L414.2,419.3" fill="none" stroke="#1a1a1a" stroke-width="3.9600000000000004" stroke-linejoin="round" stroke-linecap="round" />
<path d="M389.7,432.6 L389.7,455.6" fill="none" stroke="#1a1a1a" stroke-width="3.9600000000000004" stroke-linejoin="round" stroke-linecap="round" />
<path d="M357.0,427.3 L357.0,450.3" fill="none" stroke="#1a1a1a" stroke-width="3.9600000000000004" stroke-linejoin="round" stroke-linecap="round" />
<ellipse cx="382.5" cy="414.1" rx="23.8" ry="14.1" fill="#fff" stroke="#1a1a1a" stroke-width="3.2"/>
<ellipse cx="381.5" cy="413.8" rx="21.4" ry="13.5" fill="#1a1a1a" stroke="none"/>
<ellipse cx="381.5" cy="414.1" rx="14.6" ry="8.2" fill="#fff" stroke="none"/>
<path d="M609.0,516.8 A36,19.3 0 0 1 681.0,516.8 L681.0,523.8 A36,19.3 0 0 1 609.0,523.8 Z" fill="#fff" stroke="#1a1a1a" stroke-width="4.0" stroke-linejoin="round" stroke-linecap="round" />
<path d="M609.0,516.8 A36,19.3 0 0 0 681.0,516.8" fill="none" stroke="#1a1a1a" stroke-width="4.0" stroke-linejoin="round" stroke-linecap="round" />
<ellipse cx="645.0" cy="515.3" rx="22.0" ry="12.5" fill="#fff" stroke="#1a1a1a" stroke-width="4.0"/>
<path d="M626.0,517.8 A19,9.5 0 0 1 664.0,517.8" fill="none" stroke="#1a1a1a" stroke-width="3.6" stroke-linejoin="round" stroke-linecap="round" />
<path d="M646.0,527.8 L654.0,542.8" fill="none" stroke="#1a1a1a" stroke-width="6.8" stroke-linejoin="round" stroke-linecap="round" />
<path d="M628.0,512.0 L662.0,507.0" fill="none" stroke="#1a1a1a" stroke-width="3" stroke-linejoin="round" stroke-linecap="round" />
<path d="M611.8,449.8 L636.3,436.5 L669.0,441.8 L677.2,460.2 L677.2,483.2 L652.7,496.5 L620.0,491.2 L611.8,472.8 Z" fill="#fff" stroke="#1a1a1a" stroke-width="4.4" stroke-linejoin="round" stroke-linecap="round" />
<path d="M611.8,449.8 L620.0,468.2 L652.7,473.5 L677.2,460.2" fill="none" stroke="#1a1a1a" stroke-width="3.9600000000000004" stroke-linejoin="round" stroke-linecap="round" />
<path d="M652.7,473.5 L652.7,496.5" fill="none" stroke="#1a1a1a" stroke-width="3.9600000000000004" stroke-linejoin="round" stroke-linecap="round" />
<path d="M620.0,468.2 L620.0,491.2" fill="none" stroke="#1a1a1a" stroke-width="3.9600000000000004" stroke-linejoin="round" stroke-linecap="round" />
<ellipse cx="645.5" cy="455.0" rx="23.8" ry="14.1" fill="#fff" stroke="#1a1a1a" stroke-width="3.2"/>
<ellipse cx="644.5" cy="454.7" rx="21.4" ry="13.5" fill="#1a1a1a" stroke="none"/>
<ellipse cx="644.5" cy="455.0" rx="14.6" ry="8.2" fill="#fff" stroke="none"/>
<text transform="translate(169.3 206.5) rotate(0) scale(1.06 1)" text-anchor="middle" font-family="Liberation Sans" font-weight="bold" font-style="italic" font-size="36" fill="#1a1a1a">9</text>
<path d="M145.3,213.9 L193.4,213.9 M193.4,213.9 L283.7,268.8" fill="none" stroke="#1a1a1a" stroke-width="1.7"/>
<rect x="281.7" y="266.8" width="4" height="4" fill="#1a1a1a"/>
<text transform="translate(169.3 268.5) rotate(0) scale(1.06 1)" text-anchor="middle" font-family="Liberation Sans" font-weight="bold" font-style="italic" font-size="36" fill="#1a1a1a">30</text>
<path d="M145.3,275.8 L193.4,275.8 M193.4,275.8 L284.5,334.0" fill="none" stroke="#1a1a1a" stroke-width="1.7"/>
<rect x="282.5" y="332.0" width="4" height="4" fill="#1a1a1a"/>
<text transform="translate(169.3 371.0) rotate(0) scale(1.06 1)" text-anchor="middle" font-family="Liberation Sans" font-weight="bold" font-style="italic" font-size="36" fill="#1a1a1a">1</text>
<path d="M145.3,379.0 L193.4,379.0 M193.4,379.0 L284.5,436.0" fill="none" stroke="#1a1a1a" stroke-width="1.7"/>
<rect x="282.5" y="434.0" width="4" height="4" fill="#1a1a1a"/>
<text transform="translate(169.3 474.0) rotate(0) scale(1.06 1)" text-anchor="middle" font-family="Liberation Sans" font-weight="bold" font-style="italic" font-size="36" fill="#1a1a1a">4</text>
<path d="M145.3,482.0 L193.4,482.0 M193.4,482.0 L284.4,538.8" fill="none" stroke="#1a1a1a" stroke-width="1.7"/>
<rect x="282.4" y="536.8" width="4" height="4" fill="#1a1a1a"/>
<text transform="translate(169.3 554.5) rotate(0) scale(1.06 1)" text-anchor="middle" font-family="Liberation Sans" font-weight="bold" font-style="italic" font-size="36" fill="#1a1a1a">3</text>
<path d="M145.3,562.3 L193.4,562.3 M193.4,562.3 L284.4,619.0" fill="none" stroke="#1a1a1a" stroke-width="1.7"/>
<rect x="282.4" y="617.0" width="4" height="4" fill="#1a1a1a"/>
<text transform="translate(169.3 637.5) rotate(0) scale(1.06 1)" text-anchor="middle" font-family="Liberation Sans" font-weight="bold" font-style="italic" font-size="36" fill="#1a1a1a">4</text>
<path d="M145.3,645.6 L193.4,645.6 M193.4,645.6 L284.4,702.4" fill="none" stroke="#1a1a1a" stroke-width="1.7"/>
<rect x="282.4" y="700.4" width="4" height="4" fill="#1a1a1a"/>
<text transform="translate(169.3 731.0) rotate(0) scale(1.06 1)" text-anchor="middle" font-family="Liberation Sans" font-weight="bold" font-style="italic" font-size="36" fill="#1a1a1a">2</text>
<path d="M145.3,739.0 L193.4,739.0 M193.4,739.0 L284.4,796.0" fill="none" stroke="#1a1a1a" stroke-width="1.7"/>
<rect x="282.4" y="794.0" width="4" height="4" fill="#1a1a1a"/>
<text transform="translate(583.0 132.5) rotate(0) scale(1.06 1)" text-anchor="middle" font-family="Liberation Sans" font-weight="bold" font-style="italic" font-size="36" fill="#1a1a1a">24</text>
<path d="M560.0,140.0 L607.6,140.0 M607.6,140.0 L684.6,382.0" fill="none" stroke="#1a1a1a" stroke-width="1.7"/>
<rect x="682.6" y="380.0" width="4" height="4" fill="#1a1a1a"/>
<text transform="translate(773.5 132.5) rotate(0) scale(1.06 1)" text-anchor="middle" font-family="Liberation Sans" font-weight="bold" font-style="italic" font-size="36" fill="#1a1a1a">21</text>
<path d="M751.4,140.0 L799.5,140.0 M799.5,140.0 L840.9,239.0" fill="none" stroke="#1a1a1a" stroke-width="1.7"/>
<rect x="838.9" y="237.0" width="4" height="4" fill="#1a1a1a"/>
<text transform="translate(859.3 132.5) rotate(0) scale(1.06 1)" text-anchor="middle" font-family="Liberation Sans" font-weight="bold" font-style="italic" font-size="36" fill="#1a1a1a">32</text>
<path d="M836.6,140.0 L884.0,140.0 M884.0,140.0 L918.8,222.3" fill="none" stroke="#1a1a1a" stroke-width="1.7"/>
<rect x="916.8" y="220.3" width="4" height="4" fill="#1a1a1a"/>
<text transform="translate(1055.7 328.3) rotate(0) scale(1.06 1)" text-anchor="middle" font-family="Liberation Sans" font-weight="bold" font-style="italic" font-size="36" fill="#1a1a1a">23</text>
<path d="M1031.2,332.7 L1079.4,332.7 M1031.2,332.7 L981.8,266.8" fill="none" stroke="#1a1a1a" stroke-width="1.7"/>
<rect x="979.8" y="264.8" width="4" height="4" fill="#1a1a1a"/>
<text transform="translate(1055.7 379.5) rotate(0) scale(1.06 1)" text-anchor="middle" font-family="Liberation Sans" font-weight="bold" font-style="italic" font-size="36" fill="#1a1a1a">33</text>
<path d="M1031.2,383.4 L1079.4,383.4 M1031.2,383.4 L925.0,265.5" fill="none" stroke="#1a1a1a" stroke-width="1.7"/>
<rect x="923.0" y="263.5" width="4" height="4" fill="#1a1a1a"/>
<text transform="translate(965.6 509.2) rotate(0) scale(1.06 1)" text-anchor="middle" font-family="Liberation Sans" font-weight="bold" font-style="italic" font-size="36" fill="#1a1a1a">22</text>
<path d="M940.8,513.2 L989.0,513.2 M940.8,513.2 L775.6,403.5" fill="none" stroke="#1a1a1a" stroke-width="1.7"/>
<rect x="773.6" y="401.5" width="4" height="4" fill="#1a1a1a"/>
<text transform="translate(966.3 891.6) rotate(0) scale(1.06 1)" text-anchor="middle" font-family="Liberation Sans" font-weight="bold" font-style="italic" font-size="36" fill="#1a1a1a">29</text>
<path d="M943.0,895.6 L988.0,895.6 M943.0,895.6 L866.0,855.0" fill="none" stroke="#1a1a1a" stroke-width="1.7"/>
<rect x="864.0" y="853.0" width="4" height="4" fill="#1a1a1a"/>
<text transform="translate(968.0 990.3) rotate(0) scale(1.06 1)" text-anchor="middle" font-family="Liberation Sans" font-weight="bold" font-style="italic" font-size="36" fill="#1a1a1a">10</text>
<path d="M941.2,995.0 L988.0,995.0 M941.2,995.0 L851.2,944.8" fill="none" stroke="#1a1a1a" stroke-width="1.7"/>
<rect x="849.2" y="942.8" width="4" height="4" fill="#1a1a1a"/>
<text transform="translate(979.3 1142.5) rotate(0) scale(1.06 1)" text-anchor="middle" font-family="Liberation Sans" font-weight="bold" font-style="italic" font-size="36" fill="#1a1a1a">15</text>
<path d="M951.6,1147.9 L1000.0,1147.9 M951.6,1147.9 L878.9,1105.7" fill="none" stroke="#1a1a1a" stroke-width="1.7"/>
<rect x="876.9" y="1103.7" width="4" height="4" fill="#1a1a1a"/>
<text transform="translate(190.1 1007.3) rotate(0) scale(1.06 1)" text-anchor="middle" font-family="Liberation Sans" font-weight="bold" font-style="italic" font-size="36" fill="#1a1a1a">17</text>
<path d="M166.5,1016.2 L211.8,1016.2 M211.8,1016.2 L335.3,992.4" fill="none" stroke="#1a1a1a" stroke-width="1.7"/>
<rect x="333.3" y="990.4" width="4" height="4" fill="#1a1a1a"/>
<text transform="translate(189.1 1058.8) rotate(0) scale(1.06 1)" text-anchor="middle" font-family="Liberation Sans" font-weight="bold" font-style="italic" font-size="36" fill="#1a1a1a">28</text>
<path d="M166.5,1066.5 L213.8,1066.5 M213.8,1066.5 L318.9,1015.0" fill="none" stroke="#1a1a1a" stroke-width="1.7"/>
<rect x="316.9" y="1013.0" width="4" height="4" fill="#1a1a1a"/>
<text transform="translate(190.2 1132.9) rotate(0) scale(1.06 1)" text-anchor="middle" font-family="Liberation Sans" font-weight="bold" font-style="italic" font-size="36" fill="#1a1a1a">11</text>
<path d="M166.5,1139.8 L213.8,1139.8 M213.8,1139.8 L269.4,1111.8" fill="none" stroke="#1a1a1a" stroke-width="1.7"/>
<rect x="267.4" y="1109.8" width="4" height="4" fill="#1a1a1a"/>
<text transform="translate(475.3 1058.8) rotate(0) scale(1.06 1)" text-anchor="middle" font-family="Liberation Sans" font-weight="bold" font-style="italic" font-size="36" fill="#1a1a1a">8</text>
<path d="M448.6,1064.4 L498.0,1064.4 M448.6,1064.4 L384.8,1027.4" fill="none" stroke="#1a1a1a" stroke-width="1.7"/>
<rect x="382.8" y="1025.4" width="4" height="4" fill="#1a1a1a"/>
<text transform="translate(456.8 1104.1) rotate(0) scale(1.06 1)" text-anchor="middle" font-family="Liberation Sans" font-weight="bold" font-style="italic" font-size="36" fill="#1a1a1a">26</text>
<path d="M434.2,1113.0 L479.5,1113.0 M479.5,1113.0 L555.7,1075.6" fill="none" stroke="#1a1a1a" stroke-width="1.7"/>
<rect x="553.7" y="1073.6" width="4" height="4" fill="#1a1a1a"/>
<text transform="translate(456.8 1161.7) rotate(0) scale(1.06 1)" text-anchor="middle" font-family="Liberation Sans" font-weight="bold" font-style="italic" font-size="36" fill="#1a1a1a">25</text>
<path d="M434.2,1169.5 L479.5,1169.5 M479.5,1169.5 L479.5,1206.5" fill="none" stroke="#1a1a1a" stroke-width="1.7"/>
<rect x="477.5" y="1204.5" width="4" height="4" fill="#1a1a1a"/>
<text transform="translate(701.0 1274.5) rotate(0) scale(1.06 1)" text-anchor="middle" font-family="Liberation Sans" font-weight="bold" font-style="italic" font-size="36" fill="#1a1a1a">13</text>
<path d="M672.2,1278.3 L719.5,1278.3 M672.2,1278.3 L610.4,1241.2" fill="none" stroke="#1a1a1a" stroke-width="1.7"/>
<rect x="608.4" y="1239.2" width="4" height="4" fill="#1a1a1a"/>
<text transform="translate(701.0 1371.5) rotate(0) scale(1.06 1)" text-anchor="middle" font-family="Liberation Sans" font-weight="bold" font-style="italic" font-size="36" fill="#1a1a1a">14</text>
<path d="M674.2,1377.0 L721.6,1377.0 M674.2,1377.0 L610.4,1340.0" fill="none" stroke="#1a1a1a" stroke-width="1.7"/>
<rect x="608.4" y="1338.0" width="4" height="4" fill="#1a1a1a"/>
<text transform="translate(701.0 1484.7) rotate(0) scale(1.06 1)" text-anchor="middle" font-family="Liberation Sans" font-weight="bold" font-style="italic" font-size="36" fill="#1a1a1a">12</text>
<path d="M676.3,1490.4 L723.6,1490.4 M676.3,1490.4 L612.4,1453.3" fill="none" stroke="#1a1a1a" stroke-width="1.7"/>
<rect x="610.4" y="1451.3" width="4" height="4" fill="#1a1a1a"/>
<text transform="translate(283.0 1416.7) rotate(0) scale(1.06 1)" text-anchor="middle" font-family="Liberation Sans" font-weight="bold" font-style="italic" font-size="36" fill="#1a1a1a">16</text>
<path d="M256.2,1425.7 L303.5,1425.7 M303.5,1425.7 L359.1,1396.9" fill="none" stroke="#1a1a1a" stroke-width="1.7"/>
<rect x="357.1" y="1394.9" width="4" height="4" fill="#1a1a1a"/>
<text transform="translate(484.8 1490.9) rotate(0) scale(1.06 1)" text-anchor="middle" font-family="Liberation Sans" font-weight="bold" font-style="italic" font-size="36" fill="#1a1a1a">18</text>
<path d="M458.0,1495.7 L505.4,1495.7 M458.0,1495.7 L405.7,1443.8" fill="none" stroke="#1a1a1a" stroke-width="1.7"/>
<rect x="403.7" y="1441.8" width="4" height="4" fill="#1a1a1a"/>
<text transform="translate(279.9 1499.1) rotate(0) scale(1.06 1)" text-anchor="middle" font-family="Liberation Sans" font-weight="bold" font-style="italic" font-size="36" fill="#1a1a1a">31</text>
<path d="M256.2,1508.0 L303.5,1508.0 M303.5,1508.0 L357.9,1473.9" fill="none" stroke="#1a1a1a" stroke-width="1.7"/>
<rect x="355.9" y="1471.9" width="4" height="4" fill="#1a1a1a"/>
<text transform="translate(484.8 1589.7) rotate(0) scale(1.06 1)" text-anchor="middle" font-family="Liberation Sans" font-weight="bold" font-style="italic" font-size="36" fill="#1a1a1a">19</text>
<path d="M458.0,1595.4 L505.4,1595.4 M458.0,1595.4 L406.5,1543.9" fill="none" stroke="#1a1a1a" stroke-width="1.7"/>
<rect x="404.5" y="1541.9" width="4" height="4" fill="#1a1a1a"/>
</svg></body></html>
